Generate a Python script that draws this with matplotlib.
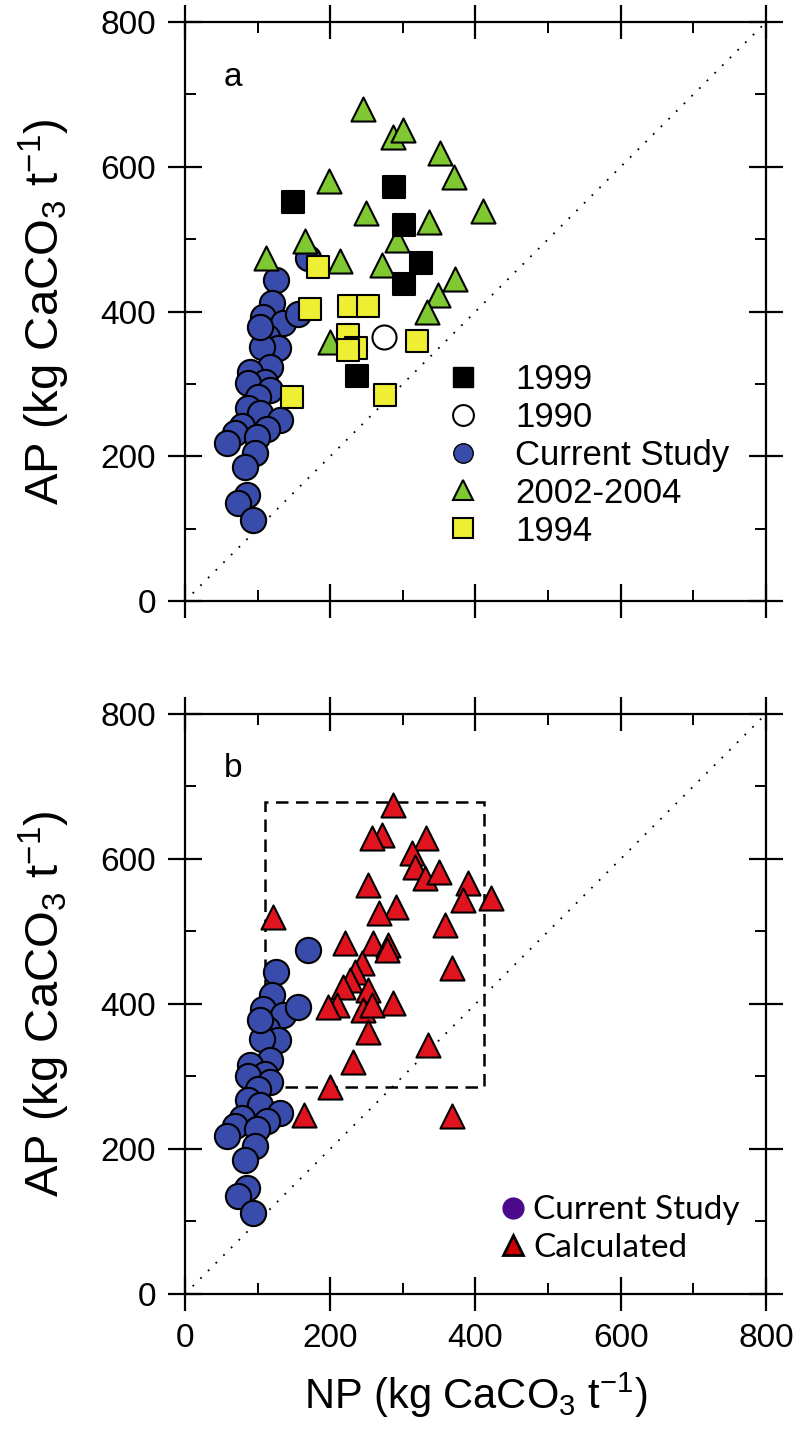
import matplotlib
matplotlib.use("Agg")
import matplotlib.pyplot as plt
from matplotlib.lines import Line2D
from matplotlib.patches import Rectangle
from matplotlib.ticker import MultipleLocator

plt.rcParams['font.family'] = ['Liberation Sans', 'DejaVu Sans']
plt.rcParams['mathtext.fontset'] = 'custom'
plt.rcParams['mathtext.rm'] = 'Liberation Sans'
plt.rcParams['mathtext.it'] = 'Liberation Sans:italic'

# Current Study (NP, AP) - same points in both panels
cur_np = [170, 125, 120, 107, 135, 156, 113, 128, 106, 103, 117, 90, 110, 87, 117,
          101, 87, 103, 131, 113, 78, 69, 58, 99, 96, 83, 85, 73, 94]
cur_ap = [474, 444, 412, 393, 384, 396, 365, 350, 351, 378, 323, 316, 303, 301, 292,
          282, 267, 260, 250, 238, 242, 232, 218, 227, 204, 185, 146, 135, 112]

# 2002-2004
y0204_np = [245, 286, 300, 351, 370, 198, 249, 336, 410, 292, 165, 112, 213, 271, 372, 348, 333, 200]
y0204_ap = [680, 641, 651, 619, 586, 580, 536, 524, 539, 499, 498, 474, 470, 464, 445, 423, 400, 358]

# 1994
y1994_np = [183, 172, 226, 252, 224, 236, 224, 319, 147, 275]
y1994_ap = [461, 404, 408, 408, 368, 350, 347, 359, 282, 285]

# 1999
y1999_np = [149, 288, 302, 325, 302, 237]
y1999_ap = [551, 572, 520, 467, 438, 311]

# 1990
y1990_np = [274]
y1990_ap = [365]

# Calculated
calc_np = [287, 271, 257, 332, 313, 317, 330, 350, 252, 390, 383, 421, 291, 267, 358, 121,
           220, 259, 280, 278, 368, 244, 234, 227, 218, 252, 287, 209, 197, 245, 257, 252,
           335, 231, 200, 164, 367]
calc_ap = [674, 633, 629, 629, 608, 589, 574, 582, 564, 567, 543, 546, 534, 525, 509, 520,
           484, 484, 481, 474, 450, 456, 444, 433, 423, 419, 401, 399, 396, 392, 399, 361,
           343, 320, 285, 247, 245]

# box around calculated values
box_np = [110, 412]
box_ap = [285, 678]

blue = '#3a4cab'
green = '#7fc832'
yellow = '#eeee32'
red = '#e0141e'
purple = '#4b0a8c'

fig = plt.figure(figsize=(7.97, 14.43), dpi=100)
ax1 = fig.add_axes([0.2321, 0.5835, 0.729, 0.4012])
ax2 = fig.add_axes([0.2321, 0.1033, 0.729, 0.4020])


def style_axes(ax):
    ax.set_xlim(0, 800)
    ax.set_ylim(0, 800)
    ax.plot([0, 800], [0, 800], color='black', lw=1.3, ls=(0, (1, 5)), zorder=1)
    ax.xaxis.set_major_locator(MultipleLocator(200))
    ax.yaxis.set_major_locator(MultipleLocator(200))
    ax.xaxis.set_minor_locator(MultipleLocator(100))
    ax.yaxis.set_minor_locator(MultipleLocator(100))
    for s in ax.spines.values():
        s.set_linewidth(1.6)
    ax.tick_params(which='major', direction='inout', length=24, width=1.6,
                   labelsize=24, pad=9)
    ax.tick_params(which='minor', direction='in', length=8, width=1.4)
    ax.tick_params(which='both', top=True, right=True)
    ax.tick_params(axis='x', which='major', pad=9)
    ax.set_ylabel(r'AP (kg CaCO$_3$ t$^{-1}$)', fontsize=34, labelpad=20)


style_axes(ax1)
style_axes(ax2)
ax1.tick_params(labelbottom=False)

mk = dict(edgecolor='black', linewidths=1.5)
ax1.scatter(cur_np, cur_ap, s=330, marker='o', color=blue, zorder=3, **mk)
ax1.scatter(y0204_np, y0204_ap, s=300, marker='^', color=green, zorder=4, **mk)
ax1.scatter(y1994_np, y1994_ap, s=230, marker='s', color=yellow, zorder=5, **mk)
ax1.scatter(y1999_np, y1999_ap, s=230, marker='s', color='black', zorder=6, **mk)
ax1.scatter(y1990_np, y1990_ap, s=300, marker='o', color='white', zorder=6, **mk)
ax1.text(0.083, 0.905, 'a', transform=ax1.transAxes, fontsize=24, ha='center', va='center')

h1 = [Line2D([], [], ls='none', marker='s', ms=14, mfc='black', mec='black'),
      Line2D([], [], ls='none', marker='o', ms=15, mfc='white', mec='black', mew=1.5),
      Line2D([], [], ls='none', marker='o', ms=14, mfc=blue, mec='black', mew=1),
      Line2D([], [], ls='none', marker='^', ms=15, mfc=green, mec='black', mew=1.5),
      Line2D([], [], ls='none', marker='s', ms=14, mfc=yellow, mec='black', mew=1.5)]
leg1 = ax1.legend(h1, ['1999', '1990', 'Current Study', '2002-2004', '1994'],
                  loc='upper left', bbox_to_anchor=(0.425, 0.435), frameon=False,
                  fontsize=25, handlelength=1.0, handletextpad=1.0,
                  labelspacing=0.14, borderaxespad=0)

ax2.add_patch(Rectangle((box_np[0], box_ap[0]), box_np[1] - box_np[0], box_ap[1] - box_ap[0],
                        fill=False, ec='black', lw=1.8, ls=(0, (5, 3)), zorder=2))
ax2.scatter(cur_np, cur_ap, s=330, marker='o', color=blue, zorder=3, **mk)
ax2.scatter(calc_np, calc_ap, s=300, marker='^', color=red, zorder=4, **mk)
ax2.text(0.083, 0.905, 'b', transform=ax2.transAxes, fontsize=24, ha='center', va='center')
ax2.set_xlabel(r'NP (kg CaCO$_3$ t$^{-1}$)', fontsize=30, labelpad=12)

h2 = [Line2D([], [], ls='none', marker='o', ms=15, mfc=purple, mec=purple),
      Line2D([], [], ls='none', marker='^', ms=15, mfc='#cc0000', mec='black', mew=2)]
leg2 = ax2.legend(h2, ['Current Study', 'Calculated'], loc='lower right',
                  bbox_to_anchor=(0.978, 0.031), frameon=False, fontsize=24,
                  handlelength=0.8, handletextpad=0.2, labelspacing=0.22,
                  borderaxespad=0)
for t in leg2.get_texts():
    t.set_fontfamily(['Lato', 'DejaVu Sans'])

fig.savefig('out.png', dpi=100)
